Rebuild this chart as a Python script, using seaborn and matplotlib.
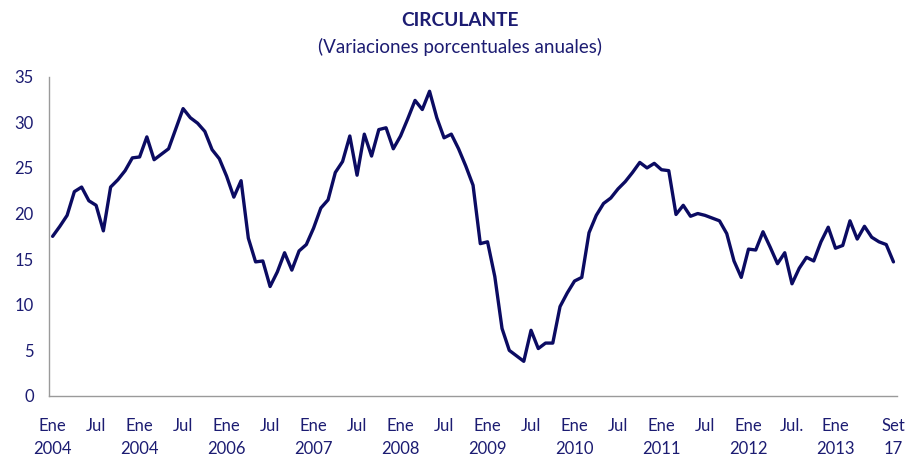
import matplotlib
matplotlib.use("Agg")
import matplotlib.pyplot as plt
import seaborn as sns
import pandas as pd
import numpy as np

values = [
    17.5, 18.6, 19.8, 22.4, 22.9, 21.4, 20.9, 18.1, 22.9, 23.7, 24.7, 26.1,
    26.2, 28.4, 25.9, 26.5, 27.1, 29.3, 31.5, 30.5, 29.9, 29.0, 27.0, 26.0,
    24.1, 21.8, 23.6, 17.3, 14.7, 14.8, 12.0, 13.6, 15.7, 13.8, 15.9, 16.6,
    18.4, 20.6, 21.5, 24.5, 25.7, 28.5, 24.2, 28.7, 26.3, 29.2, 29.4, 27.1,
    28.5, 30.4, 32.4, 31.4, 33.4, 30.5, 28.3, 28.7, 27.1, 25.2, 23.1, 16.7,
    16.9, 13.1, 7.4, 5.0, 4.4, 3.8, 7.2, 5.2, 5.8, 5.8, 9.8, 11.3,
    12.6, 13.0, 17.9, 19.8, 21.1, 21.7, 22.7, 23.5, 24.5, 25.6, 25.0, 25.5,
    24.8, 24.7, 19.9, 20.9, 19.7, 20.0, 19.8, 19.5, 19.2, 17.8, 14.8, 13.0,
    16.1, 16.0, 18.0, 16.3, 14.5, 15.7, 12.3, 14.0, 15.2, 14.8, 16.9, 18.5,
    16.2, 16.5, 19.2, 17.2, 18.6, 17.4, 16.9, 16.6, 14.7,
]
tick_positions = [0, 6, 12, 18, 24, 30, 36, 42, 48, 54, 60, 66, 72, 78, 84, 90, 96, 102, 108, 116]
tick_labels = ["Ene\n2004", "Jul", "Ene\n2004", "Jul", "Ene\n2006", "Jul", "Ene\n2007", "Jul",
               "Ene\n2008", "Jul", "Ene\n2009", "Jul", "Ene\n2010", "Jul", "Ene\n2011", "Jul",
               "Ene\n2012", "Jul.", "Ene\n2013", "Set\n17"]
y_ticks = [0, 5, 10, 15, 20, 25, 30, 35]

df = pd.DataFrame({"mes": np.arange(len(values)), "valor": values})

sns.set_theme(style="white")
plt.rcParams['font.family'] = ['Lato', 'DejaVu Sans']

navy_text = "#1c1c72"
line_col = "#0b0b62"
gray = "#9a9a9a"

fig = plt.figure(figsize=(9.09, 4.57), dpi=100)
ax = fig.add_axes([0.0539, 0.1335, 0.933, 0.6987])
sns.lineplot(data=df, x="mes", y="valor", ax=ax, color=line_col, linewidth=2.4)

ax.set_xlim(-0.5, len(values) - 0.5)
ax.set_ylim(0, 35)
ax.set_yticks(y_ticks)
ax.set_yticklabels([str(v) for v in y_ticks], color=navy_text, fontsize=12)
ax.set_xticks(tick_positions)
ax.set_xticklabels(tick_labels, color=navy_text, fontsize=12, linespacing=1.55, va="top")
ax.set_xticks(np.arange(-0.5, len(values)), minor=True)
ax.tick_params(axis="x", which="major", length=0, pad=16)
ax.tick_params(axis="x", which="minor", length=5, color=gray, width=0.8, direction="out")
ax.tick_params(axis="y", which="major", length=6, color=gray, width=0.8, direction="out", pad=5)
ax.set_xlabel("")
ax.set_ylabel("")
for s in ["top", "right"]:
    ax.spines[s].set_visible(False)
for s in ["left", "bottom"]:
    ax.spines[s].set_color(gray)
    ax.spines[s].set_linewidth(1.0)
ax.grid(False)

fig.text(0.506, 0.955, "CIRCULANTE", ha="center", va="center", fontsize=13.8,
         fontweight="bold", color=navy_text)
fig.text(0.506, 0.898, "(Variaciones porcentuales anuales)", ha="center", va="center",
         fontsize=13.5, color=navy_text)

fig.savefig("out.png", dpi=100)
